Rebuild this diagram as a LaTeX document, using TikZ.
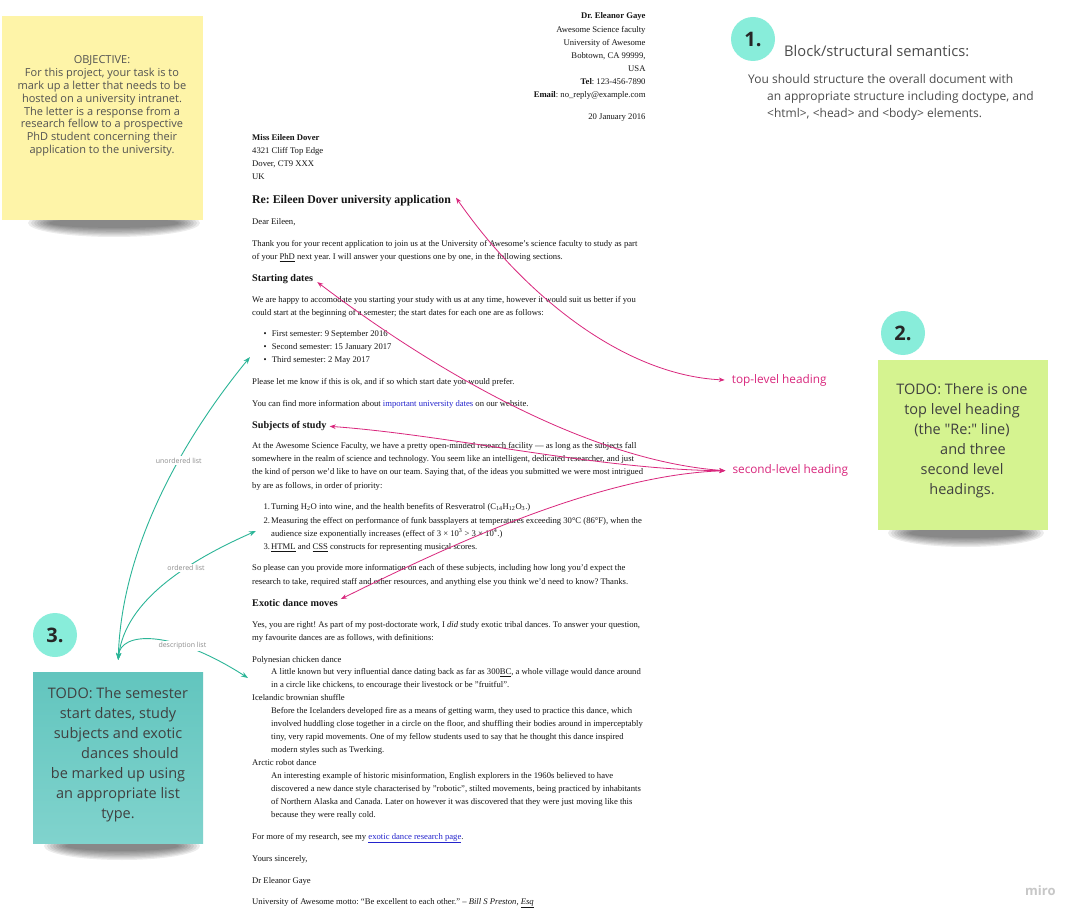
\documentclass[tikz,border=0pt]{standalone}
\usepackage{fontspec}
\setmainfont{Liberation Serif}
\newfontfamily\osans{Open Sans}
\usetikzlibrary{arrows.meta,calc}
\definecolor{pinkc}{HTML}{D9277D}
\definecolor{greenc}{HTML}{2BB597}
\definecolor{mint}{HTML}{88EDDA}
\definecolor{yel}{HTML}{FEF4A8}
\definecolor{lime}{HTML}{D5F390}
\definecolor{tealA}{HTML}{62C5BE}
\definecolor{tealB}{HTML}{80D3CD}
\definecolor{linkc}{HTML}{2323CC}
\definecolor{bodyc}{HTML}{151515}
\newcommand\bodyfs{\fontsize{8.65}{13.3}\selectfont}
\newcommand\lnk[1]{\textcolor{linkc}{#1}}
\frenchspacing
\begin{document}
\begin{tikzpicture}[x=1pt,y=-1pt,
  ln/.style={font=\bodyfs, anchor=base west, inner sep=0pt, text=bodyc},
  rln/.style={ln, anchor=base east},
  hone/.style={ln, font=\fontsize{11.8}{14}\selectfont\bfseries},
  htwo/.style={ln, font=\fontsize{10.2}{12}\selectfont\bfseries},
  pinkarrow/.style={draw=pinkc, line width=0.8pt, {Stealth[length=6pt,width=4.5pt]}-{Stealth[length=6pt,width=4.5pt]}},
  greenarrow/.style={draw=greenc, line width=0.9pt, {Stealth[length=7pt,width=5pt]}-{Stealth[length=7pt,width=5pt]}},
  glbl/.style={font=\osans\fontsize{7}{8}\selectfont, text=black!45, fill=white, inner sep=1.5pt},
  plbl/.style={font=\osans\fontsize{11.8}{13}\selectfont, text=pinkc, anchor=west, inner sep=0pt},
  numcirc/.style={circle, fill=mint, minimum size=44pt, inner sep=0pt, font=\osans\bfseries\fontsize{20}{22}\selectfont, text=black!85},
  notetxt/.style={align=center, inner sep=0pt, font=\osans\fontsize{14.5}{20}\selectfont, text=black!75}
]
\useasboundingbox (0,0) rectangle (1085,920);
\fill[white] (0,0) rectangle (1085,920);

% ---------- shadows ----------
\foreach \k in {0,...,7}{
  \fill[black,opacity=0.075] (114,223) ellipse [x radius={(86-3*\k)*1pt}, y radius={(14-1.3*\k)*1pt}];
  \fill[black,opacity=0.075] (122,846) ellipse [x radius={(78-3*\k)*1pt}, y radius={(14-1.3*\k)*1pt}];
  \fill[black,opacity=0.075] (966,533) ellipse [x radius={(78-3*\k)*1pt}, y radius={(14-1.3*\k)*1pt}];
}

% ---------- sticky notes ----------
\node[fill=yel, minimum width=201pt, minimum height=204pt, inner sep=0pt, anchor=north west] (note1) at (2,16) {};
\node[align=center, inner sep=0pt, font=\osans\fontsize{11}{12.8}\selectfont, text=black!68] (obj) at (102,106)
  {OBJECTIVE:\\For this project, your task is to\\mark up a letter that needs to be\\hosted on a university intranet.\\The letter is a response from a\\research fellow to a prospective\\PhD student concerning their\\application to the university.};

\node[fill=lime, minimum width=170pt, minimum height=170pt, inner sep=0pt, anchor=north west] (note2) at (878,360) {};
\node[notetxt] (todo2) at (962,441)
  {TODO: There is one\\top level heading\\(the "Re:" line)\\\hspace*{22pt}and three\\second level\\headings.};

\shade[top color=tealA, bottom color=tealB] (33,672) rectangle (203,843);
\node[minimum width=170pt, minimum height=171pt, inner sep=0pt, anchor=north west] (note3) at (33,672) {};
\node[notetxt] (todo3) at (118,755)
  {TODO: The semester\\start dates, study\\subjects and exotic\\\hspace*{24pt}dances should\\be marked up using\\an appropriate list\\type.};

% ---------- numbered circles ----------
\node[numcirc] (c1) at (753,39) {1.};
\node[numcirc] (c2) at (903,333) {2.};
\node[numcirc] (c3) at (55,635) {3.};

% ---------- top right text ----------
\node[anchor=base west, inner sep=0pt, font=\osans\fontsize{14.7}{16}\selectfont, text=black!70] (blk) at (784,57) {Block/structural semantics:};
\node[anchor=base west, inner sep=0pt, font=\osans\fontsize{12}{14}\selectfont, text=black!70] (bk1) at (748,84) {You should structure the overall document with};
\node[anchor=base west, inner sep=0pt, font=\osans\fontsize{12}{14}\selectfont, text=black!70] (bk2) at (767,101) {an appropriate structure including doctype, and};
\node[anchor=base west, inner sep=0pt, font=\osans\fontsize{12}{14}\selectfont, text=black!70] (bk3) at (767,118) {<html>, <head> and <body> elements.};

% ---------- letter ----------
\node[rln, font=\bodyfs\bfseries] (hA) at (645.7,19) {Dr. Eleanor Gaye};
\node[rln] (hB) at (645.7,32.3) {Awesome Science faculty};
\node[rln] (hC) at (645.7,45.7) {University of Awesome};
\node[rln] (hD) at (645.7,59) {Bobtown, CA 99999,};
\node[rln] (hE) at (645.7,71.7) {USA};
\node[rln] (hF) at (645.7,84.3) {\textbf{Tel}: 123-456-7890};
\node[rln] (hG) at (645.7,97.7) {\textbf{Email}: no\_reply@example.com};
\node[rln] (hH) at (645.7,119.7) {20 January 2016};

\node[ln, font=\bodyfs\bfseries] (aA) at (252,140.3) {Miss Eileen Dover};
\node[ln] (aB) at (252,154) {4321 Cliff Top Edge};
\node[ln] (aC) at (252,167) {Dover, CT9 XXX};
\node[ln] (aD) at (252,179.7) {UK};

\node[hone] (re) at (252,203.5) {Re: Eileen Dover university application};
\node[ln] (b1) at (252,224.7) {Dear Eileen,};
\node[ln] (b2) at (252,246.3) {Thank you for your recent application to join us at the University of Awesome's science faculty to study as part};
\node[ln] (b3) at (252,259.7) {of your \underline{PhD} next year. I will answer your questions one by one, in the following sections.};
\node[htwo] (hSt) at (252,281.5) {Starting dates};
\node[ln] (b4) at (252,302.3) {We are happy to accomodate you starting your study with us at any time, however it would suit us better if you};
\node[ln] (b5) at (252,315.3) {could start at the beginning of a semester; the start dates for each one are as follows:};
\node[ln] (u1) at (263.5,336.3) {\makebox[8.2pt][l]{•}First semester: 9 September 2016};
\node[ln] (u2) at (263.5,349.7) {\makebox[8.2pt][l]{•}Second semester: 15 January 2017};
\node[ln] (u3) at (263.5,362.3) {\makebox[8.2pt][l]{•}Third semester: 2 May 2017};
\node[ln] (b6) at (252,384) {Please let me know if this is ok, and if so which start date you would prefer.};
\node[ln] (b7) at (252,406.3) {You can find more information about \lnk{important university dates} on our website.};
\node[htwo] (hSu) at (252,428.8) {Subjects of study};
\node[ln] (b8) at (252,448) {At the Awesome Science Faculty, we have a pretty open-minded research facility — as long as the subjects fall};
\node[ln] (b9) at (252,461.3) {somewhere in the realm of science and technology. You seem like an intelligent, dedicated researcher, and just};
\node[ln] (b10) at (252,474.7) {the kind of person we'd like to have on our team. Saying that, of the ideas you submitted we were most intrigued};
\node[ln] (b11) at (252,488) {by are as follows, in order of priority:};
\node[ln] (o1) at (263.3,509.7) {\makebox[7.7pt][l]{1.}Turning H\textsubscript{2}O into wine, and the health benefits of Resveratrol (C\textsubscript{14}H\textsubscript{12}O\textsubscript{3}.)};
\node[ln] (o2) at (263.3,523) {\makebox[7.7pt][l]{2.}Measuring the effect on performance of funk bassplayers at temperatures exceeding 30°C (86°F), when the};
\node[ln] (o2b) at (271,536.3) {audience size exponentially increases (effect of 3 × 10\textsuperscript{3} > 3 × 10\textsuperscript{4}.)};
\node[ln] (o3) at (263.3,549.7) {\makebox[7.7pt][l]{3.}\underline{HTML} and \underline{CSS} constructs for representing musical scores.};
\node[ln] (b12) at (252,570.7) {So please can you provide more information on each of these subjects, including how long you'd expect the};
\node[ln] (b13) at (252,584) {research to take, required staff and other resources, and anything else you think we'd need to know? Thanks.};
\node[htwo] (hEx) at (252,606.5) {Exotic dance moves};
\node[ln] (b14) at (252,627.3) {Yes, you are right! As part of my post-doctorate work, I \emph{did} study exotic tribal dances. To answer your question,};
\node[ln] (b15) at (252,640.7) {my favourite dances are as follows, with definitions:};
\node[ln] (d1) at (252,662) {Polynesian chicken dance};
\node[ln] (d1a) at (271,674.7) {A little known but very influential dance dating back as far as 300\underline{BC}, a whole village would dance around};
\node[ln] (d1b) at (271,687.3) {in a circle like chickens, to encourage their livestock or be "fruitful".};
\node[ln] (d2) at (252,700.3) {Icelandic brownian shuffle};
\node[ln] (d2a) at (271,713) {Before the Icelanders developed fire as a means of getting warm, they used to practice this dance, which};
\node[ln] (d2b) at (271,726.3) {involved huddling close together in a circle on the floor, and shuffling their bodies around in imperceptably};
\node[ln] (d2c) at (271,739.7) {tiny, very rapid movements. One of my fellow students used to say that he thought this dance inspired};
\node[ln] (d2d) at (271,752.3) {modern styles such as Twerking.};
\node[ln] (d3) at (252,765.7) {Arctic robot dance};
\node[ln] (d3a) at (271,778.7) {An interesting example of historic misinformation, English explorers in the 1960s believed to have};
\node[ln] (d3b) at (271,791.7) {discovered a new dance style characterised by "robotic", stilted movements, being practiced by inhabitants};
\node[ln] (d3c) at (271,804.7) {of Northern Alaska and Canada. Later on however it was discovered that they were just moving like this};
\node[ln] (d3d) at (271,817.7) {because they were really cold.};
\node[ln] (b16) at (252,839) {For more of my research, see my \lnk{\underline{exotic dance research page}}.};
\node[ln] (b17) at (252,861.3) {Yours sincerely,};
\node[ln] (b18) at (252,883) {Dr Eleanor Gaye};
\node[ln] (b19) at (252,904) {University of Awesome motto: “Be excellent to each other.” -- \emph{Bill S Preston, \underline{Esq}}};

% ---------- pink labels and arrows ----------
\node[plbl] (toplbl) at (731.7,380) {top-level heading};
\node[plbl] (seclbl) at (732.3,470.7) {second-level heading};

\coordinate (reTip) at ($(re.east)+(5,-3)$);
\coordinate (stTip) at ($(hSt.east)+(4,3)$);
\coordinate (suTip) at ($(hSu.east)+(3,0)$);
\coordinate (exTip) at ($(hEx.east)+(3,-4)$);
\coordinate (topTip) at ($(toplbl.west)+(-7,0)$);
\coordinate (secTip) at ($(seclbl.west)+(-7,0)$);

\draw[pinkarrow] (reTip) .. controls (520,290) and (620,375) .. (topTip);
\draw[pinkarrow] (stTip) .. controls (420,360) and (580,460) .. (secTip);
\draw[pinkarrow] (suTip) .. controls (450,435) and (600,470) .. (secTip);
\draw[pinkarrow] (exTip) .. controls (450,545) and (600,475) .. (secTip);

% ---------- green arrows ----------
\coordinate (s3Tip) at ($(note3.north)+(0,-12)$);
\coordinate (ulTip) at (250,357);
\coordinate (olTip) at (256,531);
\coordinate (dlTip) at (248,678);
\draw[greenarrow] (s3Tip) .. controls (122,540) and (190,430) .. node[glbl, pos=0.6] (lblU) {unordered list} (ulTip);
\draw[greenarrow] (s3Tip) .. controls (125,600) and (190,560) .. node[glbl, pos=0.63] (lblO) {ordered list} (olTip);
\draw[greenarrow] (s3Tip) .. controls (120,632) and (170,628) .. node[glbl, pos=0.68] (lblD) {description list} (dlTip);

% ---------- logo ----------
\node[anchor=base west, inner sep=0pt, font=\osans\bfseries\fontsize{13}{15}\selectfont, text=black!22] (miro) at (1025,895) {miro};
\end{tikzpicture}
\end{document}
